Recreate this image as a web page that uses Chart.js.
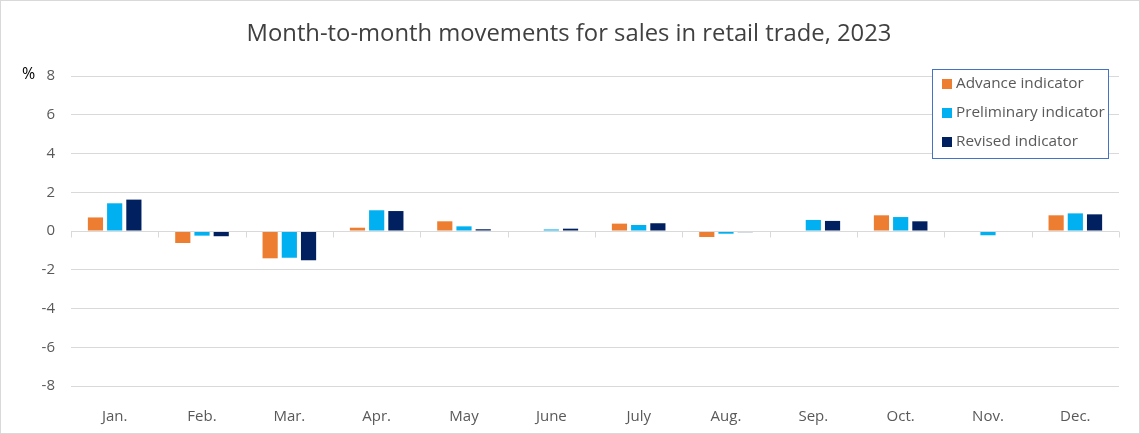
<!DOCTYPE html>
<html>
<head>
<meta charset="utf-8">
<script src="https://cdn.jsdelivr.net/npm/chart.js@4/dist/chart.umd.min.js"></script>
<style>
  html, body { margin: 0; padding: 0; background: #fff; }
  #wrap { position: relative; width: 1138px; height: 432px; border: 1px solid #d9d9d9; }
</style>
</head>
<body>
<div id="wrap"><canvas id="chart" width="1138" height="432"></canvas></div>
<script>
// --- data ---
const MONTHS = ['Jan.', 'Feb.', 'Mar.', 'Apr.', 'May', 'June', 'July', 'Aug.', 'Sep.', 'Oct.', 'Nov.', 'Dec.'];
const ADVANCE = [0.7, -0.62, -1.41, 0.17, 0.5, null, 0.38, -0.31, null, 0.81, null, 0.81];
const PRELIMINARY = [1.43, -0.24, -1.38, 1.07, 0.24, 0.08, 0.31, -0.14, 0.57, 0.72, -0.22, 0.91];
const REVISED = [1.62, -0.27, -1.51, 1.03, 0.09, 0.12, 0.4, -0.06, 0.52, 0.5, null, 0.86];
const Y_MIN = -8, Y_MAX = 8, Y_STEP = 2;

const FONT = "'Open Sans', 'Noto Sans', sans-serif";
const TEXT = '#595959';
const GRID = '#d9d9d9';

// title, % unit, zero line with category ticks, boxed legend
const extras = {
  id: 'extras',
  afterDraw(chart) {
    const ctx = chart.ctx;
    const x = chart.scales.x, y = chart.scales.y;
    ctx.save();

    ctx.fillStyle = '#404040';
    ctx.font = `23.8px ${FONT}`;
    ctx.textAlign = 'center';
    ctx.textBaseline = 'middle';
    ctx.fillText('Month-to-month movements for sales in retail trade, 2023', 568, 33);

    ctx.fillStyle = '#000';
    ctx.font = `16px ${FONT}`;
    ctx.textAlign = 'left';
    ctx.fillText('%', 21, y.getPixelForValue(Y_MAX) - 2);

    // zero line + tick marks at category boundaries
    const y0 = Math.round(y.getPixelForValue(0)) + 0.5;
    ctx.strokeStyle = GRID;
    ctx.lineWidth = 1;
    ctx.beginPath();
    ctx.moveTo(x.left, y0);
    ctx.lineTo(x.right, y0);
    const step = (x.right - x.left) / MONTHS.length;
    for (let i = 0; i <= MONTHS.length; i++) {
      const px = Math.round(x.left + i * step) + 0.5;
      ctx.moveTo(px, y0);
      ctx.lineTo(px, y0 + 6);
    }
    ctx.stroke();

    // legend box
    const lx = 931, ly = 68, lw = 176, lh = 89;
    ctx.fillStyle = '#fff';
    ctx.fillRect(lx, ly, lw, lh);
    ctx.strokeStyle = '#4472C4';
    ctx.strokeRect(lx + 0.5, ly + 0.5, lw, lh);
    ctx.font = `15.3px ${FONT}`;
    ctx.textBaseline = 'middle';
    chart.data.datasets.forEach((ds, i) => {
      const cy = ly + 15 + i * 29;
      ctx.fillStyle = ds.backgroundColor;
      ctx.fillRect(lx + 10, cy - 5, 10, 10);
      ctx.fillStyle = TEXT;
      ctx.fillText(ds.label, lx + 24, cy);
    });
    ctx.restore();
  }
};

new Chart(document.getElementById('chart'), {
  type: 'bar',
  data: {
    labels: MONTHS,
    datasets: [
      { label: 'Advance indicator', data: ADVANCE, backgroundColor: '#ED7D31' },
      { label: 'Preliminary indicator', data: PRELIMINARY, backgroundColor: '#00B0F0' },
      { label: 'Revised indicator', data: REVISED, backgroundColor: '#002060' }
    ]
  },
  options: {
    responsive: false,
    animation: false,
    layout: { padding: { top: 75, left: 8, right: 20, bottom: 0 } },
    datasets: { bar: { categoryPercentage: 0.66, barPercentage: 0.79 } },
    plugins: { legend: { display: false }, tooltip: { enabled: false } },
    scales: {
      x: {
        grid: { display: false },
        border: { display: false },
        ticks: { color: TEXT, font: { family: FONT, size: 15 }, padding: 14 },
        afterFit(s) { s.height = 47; }
      },
      y: {
        min: Y_MIN, max: Y_MAX,
        ticks: { stepSize: Y_STEP, color: TEXT, font: { family: FONT, size: 15 }, padding: 16 },
        grid: { color: GRID, drawTicks: false },
        border: { display: false },
        afterFit(s) { s.width = 62; }
      }
    }
  },
  plugins: [extras]
});
</script>
</body>
</html>
